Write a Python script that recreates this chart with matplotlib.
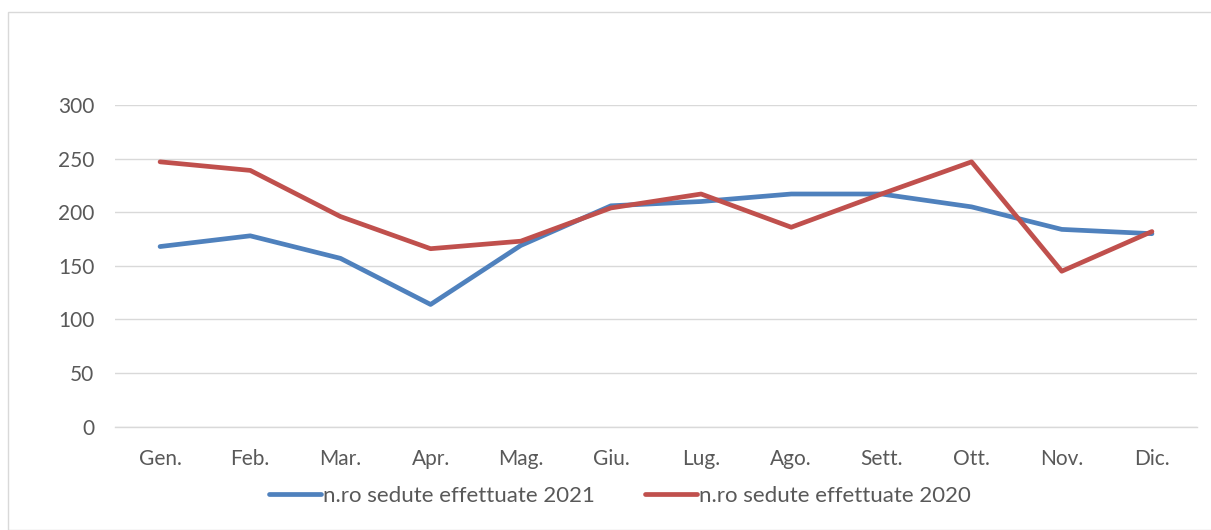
import matplotlib
matplotlib.use("Agg")
import matplotlib.pyplot as plt
from matplotlib.patches import Rectangle

months = ["Gen.", "Feb.", "Mar.", "Apr.", "Mag.", "Giu.", "Lug.", "Ago.", "Sett.", "Ott.", "Nov.", "Dic."]
sedute_2021 = [168, 178, 157, 114, 169, 206, 210, 217, 217, 205, 184, 180]
sedute_2020 = [247, 239, 196, 166, 173, 204, 217, 186, 217, 247, 145, 182]
label_2021 = "n.ro sedute effettuate 2021"
label_2020 = "n.ro sedute effettuate 2020"
yticks = [0, 50, 100, 150, 200, 250, 300]

plt.rcParams['font.family'] = ['Lato', 'DejaVu Sans']
txt = "#595959"
fs = 15

fig = plt.figure(figsize=(12.11, 5.30), dpi=100)
ax = fig.add_axes([115/1211, 1 - 426.7/530, (1197-115)/1211, (426.7-105)/530])

x = list(range(len(months)))
ax.plot(x, sedute_2021, color="#4F81BD", lw=3.4, solid_capstyle="round", solid_joinstyle="round", label=label_2021, zorder=3)
ax.plot(x, sedute_2020, color="#C0504D", lw=3.4, solid_capstyle="round", solid_joinstyle="round", label=label_2020, zorder=4)

ax.set_xlim(-0.5, len(months) - 0.5)
ax.set_ylim(0, 300)
ax.set_yticks(yticks)
ax.set_yticklabels([str(v) for v in yticks])
ax.set_xticks(x)
ax.set_xticklabels(months)
ax.grid(axis="y", color="#D9D9D9", lw=1.0)
ax.set_axisbelow(True)
for s in ["top", "right", "left"]:
    ax.spines[s].set_visible(False)
ax.spines["bottom"].set_color("#D9D9D9")
ax.spines["bottom"].set_linewidth(1.0)
ax.tick_params(axis="both", length=0, labelsize=fs, labelcolor=txt)
ax.tick_params(axis="y", pad=15)
ax.tick_params(axis="x", pad=16)

leg = fig.legend(loc="center", bbox_to_anchor=(620/1211, 1 - 496/530), ncol=2, frameon=False,
                 fontsize=16, handlelength=2.35, handletextpad=0.1, columnspacing=2.25, labelcolor=txt)

fig.patches.append(Rectangle((8/1211, 0), 1.2, 1 - 12/530, transform=fig.transFigure,
                             fill=False, edgecolor="#D9D9D9", lw=1.0))

fig.savefig("out.png", dpi=100)
